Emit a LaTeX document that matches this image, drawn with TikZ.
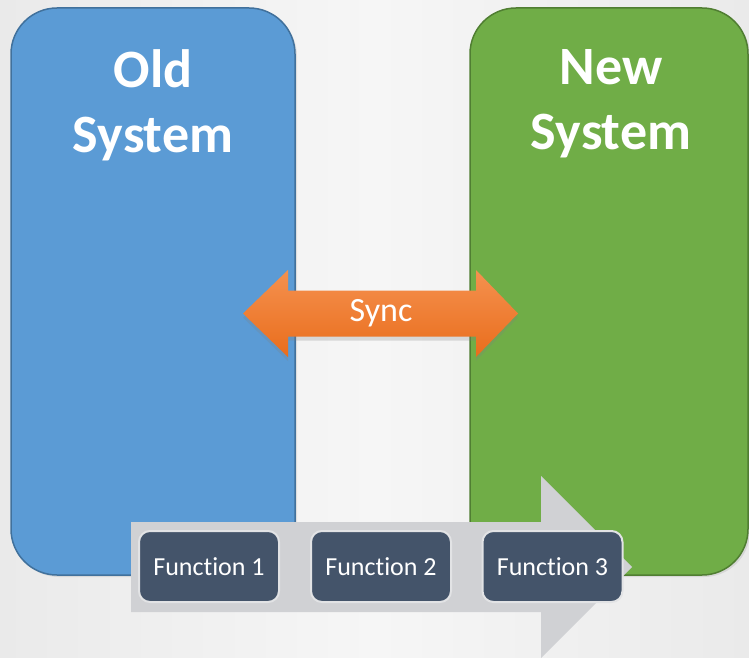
\documentclass[tikz,border=0pt]{standalone}
\usepackage{fontspec}
\setmainfont{Carlito}[Ligatures=NoCommon]
\usetikzlibrary{shadows}

\definecolor{bgmid}{HTML}{F6F6F6}
\definecolor{bgedge}{HTML}{EAEAEA}
\definecolor{oldfill}{HTML}{5B9BD5}
\definecolor{oldline}{HTML}{41719C}
\definecolor{newfill}{HTML}{70AD47}
\definecolor{newline}{HTML}{507E32}
\definecolor{synctop}{HTML}{F5914F}
\definecolor{syncbot}{HTML}{E96D1C}
\definecolor{flowgray}{HTML}{D0D1D4}
\definecolor{fnfill}{HTML}{44546A}
\definecolor{fnline}{HTML}{E2E3E5}

\tikzset{
  sysbox/.style={draw, line width=1.5pt, rounded corners=46pt,
    minimum width=284pt, minimum height=567pt, inner sep=0pt,
    drop shadow={shadow xshift=2pt, shadow yshift=-2pt, opacity=0.18}},
  systitle/.style={text=white, align=center, anchor=north, inner sep=0pt,
    font=\fontsize{54}{65}\selectfont\bfseries},
  syncshape/.style={top color=synctop, bottom color=syncbot,
    drop shadow={shadow xshift=0pt, shadow yshift=-4pt, opacity=0.25}},
  synclabel/.style={text=white, inner sep=0pt, font=\fontsize{34}{40}\selectfont},
  flowshape/.style={fill=flowgray},
  fnbox/.style={fill=fnfill, draw=fnline, line width=2pt, rounded corners=11pt,
    minimum width=140pt, minimum height=71pt, inner sep=0pt, text=white,
    font=\fontsize{26}{30}\selectfont}
}

\begin{document}
\begin{tikzpicture}[x=1pt, y=-1pt]
  % backdrop
  \fill[left color=bgedge, right color=bgedge, middle color=bgmid] (0,0) rectangle (749,658);
  \useasboundingbox (0,0) rectangle (749,658);

  % the two systems
  \node[sysbox, fill=oldfill, draw=oldline] (old) at (153,291.5) {};
  \node[sysbox, fill=newfill, draw=newline, minimum width=278pt] (new) at (609,291.5) {};
  \node[systitle] (oldtitle) at (153,49) {Old\\System};
  \node[systitle] (newtitle) at (611,49) {New\\System};

  % two-headed sync arrow between the systems
  \path[syncshape] (243,313.5) -- (288,270) -- (288,290.5) -- (476,290.5) -- (476,270)
    -- (518,313.5) -- (476,357) -- (476,336.5) -- (288,336.5) -- (288,357) -- cycle;
  \node[synclabel] (sync) at (381,313.5) {Sync};

  % process flow band with its head
  \fill[flowshape] (131,522) -- (541,522) -- (541,476) -- (632,567) -- (541,658)
    -- (541,612) -- (131,612) -- cycle;

  % function steps
  \node[fnbox] (f1) at (209,566.5) {Function 1};
  \node[fnbox] (f2) at (381,566.5) {Function 2};
  \node[fnbox] (f3) at (552.5,566.5) {Function 3};
\end{tikzpicture}
\end{document}
